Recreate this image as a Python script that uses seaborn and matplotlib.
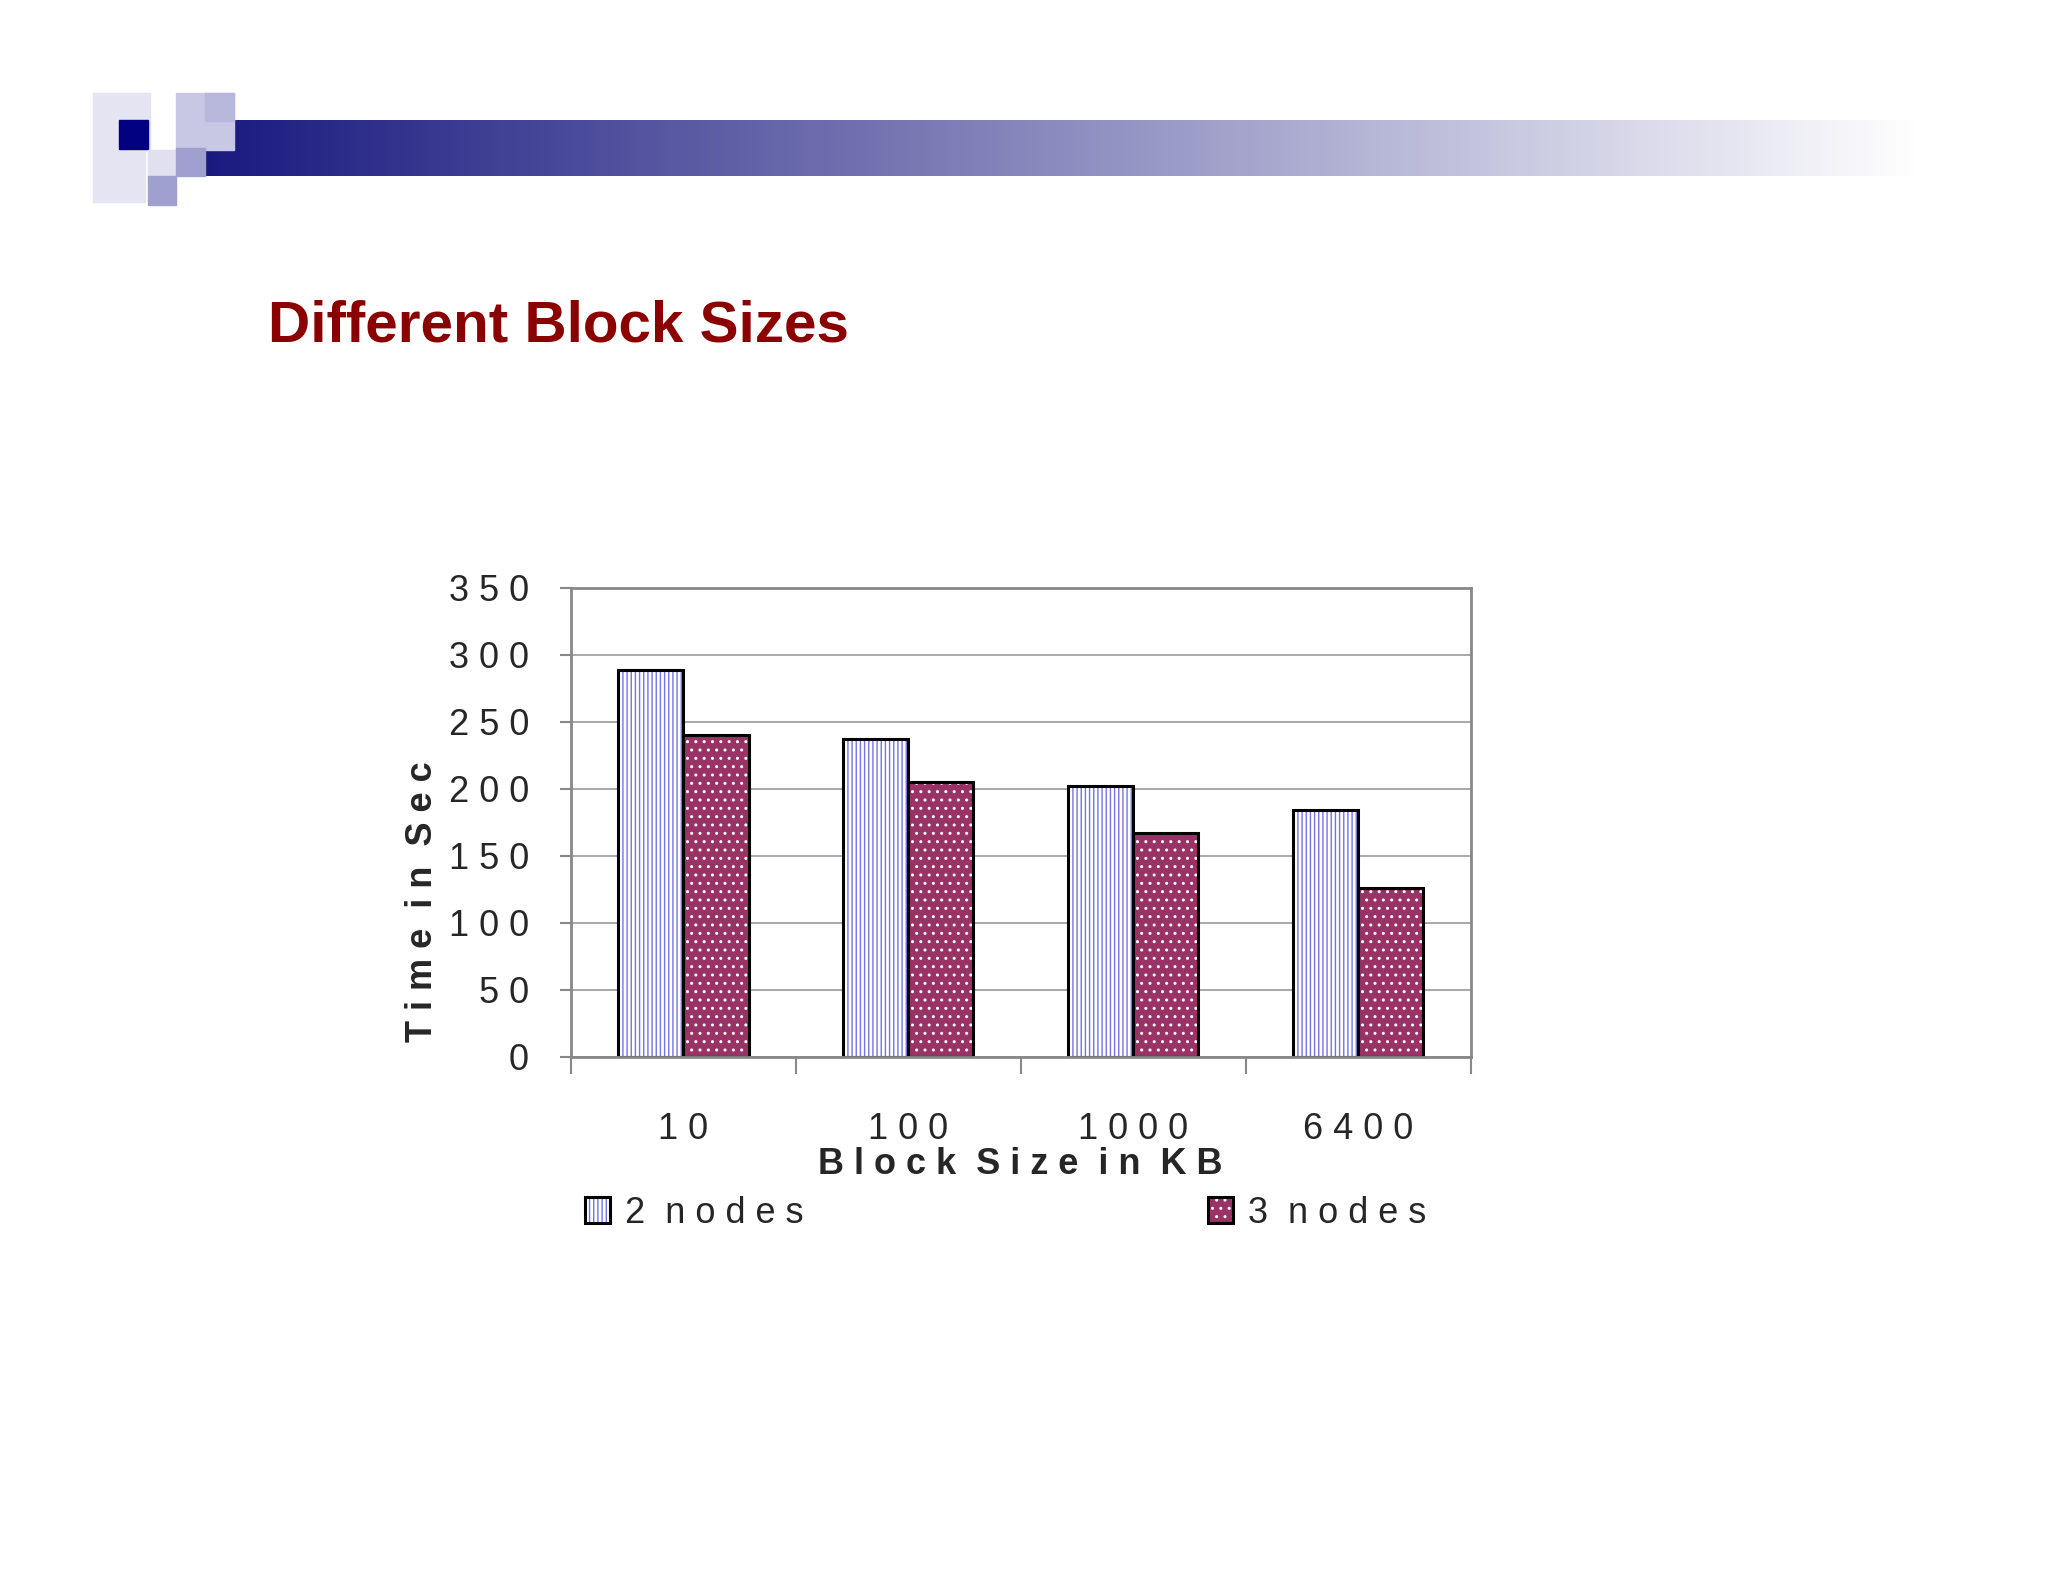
import matplotlib
matplotlib.use("Agg")
import matplotlib.pyplot as plt
import seaborn as sns
import numpy as np
import pandas as pd

categories = ["10", "100", "1000", "6400"]
nodes2 = [289, 237, 202, 184]
nodes3 = [240, 205, 167, 126]
series = ["2 nodes", "3 nodes"]
yticks = [0, 50, 100, 150, 200, 250, 300, 350]

df = pd.DataFrame({"Block": categories * 2,
                   "Time": nodes2 + nodes3,
                   "Series": [series[0]] * 4 + [series[1]] * 4})

sns.set_theme(style="white")
plt.rcParams['font.family'] = ['Liberation Sans', 'DejaVu Sans']
W, H = 1568, 1211
fig = plt.figure(figsize=(20.48, 15.82), dpi=100)

gax = fig.add_axes([157/W, 1-135/H, 1315/W, 43/H])
grad = np.linspace(0, 1, 256).reshape(1, -1)
c0 = np.array([0.10, 0.10, 0.50]); c1 = np.array([1.0, 1.0, 1.0])
img = c0[None, None, :] * (1-grad[..., None]) + c1[None, None, :] * grad[..., None]
gax.imshow(img, aspect='auto'); gax.axis('off')
for (x, y, s, c) in [(71, 71, 44, '#e4e4f2'), (135, 71, 44, '#c8c8e4'), (157, 71, 22, '#b8b8dc'),
                     (71, 115, 40, '#e4e4f2'), (91, 92, 22, '#000080'), (113, 115, 22, '#e0e0f0'),
                     (135, 113, 22, '#9f9fd0'), (113, 135, 22, '#9f9fd0')]:
    fig.patches.append(plt.Rectangle((x/W, 1-(y+s)/H), s/W, s/H, transform=fig.transFigure,
                                     color=c, zorder=0))
fig.text(205/W, 1-250/H, "Different Block Sizes", color='#8b0000', fontsize=42,
         fontweight='bold', va='center', ha='left')

ax = fig.add_axes([437/W, 1-809/H, (1126-437)/W, (809-450)/H])
sns.barplot(data=df, x="Block", y="Time", hue="Series", ax=ax, width=0.58,
            palette=["#ffffff", "#993366"], edgecolor='black', linewidth=2.2,
            legend=True, saturation=1)
hatches = ['||||', '..']
hcols = [(0.45, 0.45, 0.9, 1), (1, 1, 1, 1)]
for cont, hatch, hc in zip(ax.containers, hatches, hcols):
    for p in cont:
        p.set_hatch(hatch)
        p._hatch_color = hc
ax.set_ylim(0, 350)
ax.set_xlim(-0.5, 3.5)
ax.set_yticks(yticks)
ax.set_yticklabels([" ".join(str(v)) for v in yticks], fontsize=26)
ax.yaxis.grid(True, color='#999999', linewidth=1.2)
ax.set_axisbelow(True)
for s in ax.spines.values():
    s.set_color('#888888'); s.set_linewidth(2)
ax.set_xticks(range(4))
ax.set_xticklabels([" ".join(c) for c in categories], fontsize=26)
ax.tick_params(axis='x', which='major', length=0, pad=40)
ax.set_xticks([-0.5, 0.5, 1.5, 2.5, 3.5], minor=True)
ax.tick_params(axis='x', which='minor', length=12, color='#888888', width=1.5, bottom=True)
ax.tick_params(axis='y', length=8, color='#888888', width=1.5, left=True, pad=22)
ax.set_xlabel("B l o c k  S i z e  i n  K B", fontsize=26, fontweight='bold', labelpad=0)
ax.set_ylabel("T i m e  i n  S e c", fontsize=26, fontweight='bold', labelpad=0)
ax.yaxis.set_label_coords(-0.145, 0.33)
h, l = ax.get_legend_handles_labels()
leg = ax.legend(h, ["2  n o d e s", "3  n o d e s"],
          ncol=2, loc='upper left', bbox_to_anchor=(0.0, -0.265), frameon=False,
          fontsize=26, columnspacing=11.2, handlelength=0.7, handleheight=0.7, handletextpad=0.4,
          borderaxespad=0)
for hdl, hatch, hc in zip(leg.legend_handles, hatches, hcols):
    hdl.set_hatch(hatch)
    hdl._hatch_color = hc
fig.savefig("out.png", dpi=100)
